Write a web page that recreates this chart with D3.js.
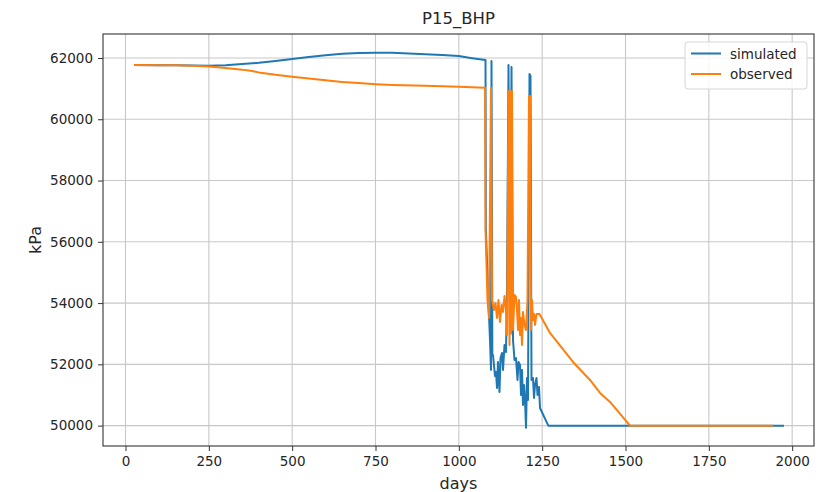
<!DOCTYPE html>
<html>
<head>
<meta charset="utf-8">
<script src="https://cdn.jsdelivr.net/npm/d3@7/dist/d3.min.js"></script>
<style>
  html, body { margin: 0; padding: 0; background: #fff; }
  svg { display: block; font-family: "DejaVu Sans", sans-serif; }
</style>
</head>
<body>
<svg id="chart" width="831" height="492"></svg>
<script>
// Bottom-hole pressure of well P15: simulated vs observed (kPa over days)
const simDays = [28.5, 100, 150, 200, 250, 300, 350, 400, 450, 500, 550, 600, 650, 700, 750, 800, 850, 900, 950, 1000, 1040, 1080,
  1081, 1087.5, 1093.5, 1096.5, 1098, 1100.5, 1102.5, 1108.5, 1111.5, 1114.5, 1117.5, 1122, 1125, 1129.5, 1132.5, 1137, 1141.5, 1144.5,
  1149, 1152, 1155, 1158, 1162.5, 1167, 1171.5, 1176, 1179, 1183.5, 1186.5, 1189.5, 1192.5, 1195.5, 1198.5, 1201.5, 1204.5, 1207.5,
  1212, 1215, 1218, 1222.5, 1225.5, 1228.5, 1233, 1236, 1240.5, 1243.5, 1268.4, 1972.5];
const simKpa = [61770, 61765, 61760, 61752, 61748, 61765, 61800, 61845, 61905, 61965, 62030, 62090, 62135, 62162, 62172, 62168, 62150, 62125, 62095, 62062, 61995, 61935,
  56450, 54430, 52800, 51820, 61900, 52300, 52306, 51620, 51750, 51229, 52077, 51098, 52208, 52371, 51816, 52632, 52404, 54428,
  61772, 54917, 54100, 61706, 52796, 52143, 52208, 51490, 52077, 51980, 51000, 51816, 50674, 51327, 50837, 49930, 51555, 50837,
  61478, 61412, 51490, 51555, 50902, 51327, 51555, 51000, 51261, 50576, 50000, 50000];

const obsDays = [28.5, 100, 150, 200, 250, 300, 350, 375, 400, 450, 500, 550, 600, 650, 700, 750, 800, 900, 1000, 1078.5,
  1080, 1086, 1090.5, 1096.5, 1099.5, 1105.5, 1110, 1114.5, 1119, 1123.5, 1128, 1132.5, 1137, 1141.5, 1144.5,
  1149, 1152, 1155, 1156.5, 1159.5, 1162.5, 1167, 1171.5, 1174.5, 1177.5, 1180.5, 1183.5, 1186.5, 1189.5, 1192.5, 1197, 1201.5, 1206,
  1210.5, 1213.5, 1216.5, 1219.5, 1222.5, 1225.5, 1228.5, 1233, 1242, 1273.5, 1342.5, 1393.5, 1423.5, 1453.5, 1513.5, 1939.5];
const obsKpa = [61770, 61765, 61760, 61750, 61720, 61670, 61620, 61585, 61530, 61450, 61385, 61330, 61270, 61220, 61180, 61145, 61120, 61090, 61065, 61030,
  56400, 54101, 53514, 61030, 54101, 53775, 54003, 53514, 54101, 53383, 53938, 53709, 54232, 53775, 52959,
  60923, 52632, 60900, 53000, 60923, 53122, 54265, 54199, 53775, 53122, 54101, 52959, 53514, 52632, 53709, 53285, 53122, 54101,
  60760, 60760, 53122, 54101, 53448, 53644, 53285, 53644, 53644, 53024, 52077, 51490, 51066, 50772, 50000, 50000];

const xTicks = [0, 250, 500, 750, 1000, 1250, 1500, 1750, 2000];
const yTicks = [50000, 52000, 54000, 56000, 58000, 60000, 62000];
const seriesNames = ["simulated", "observed"];
const seriesColors = ["#1f77b4", "#ff7f0e"];

const svg = d3.select("#chart");
const plot = { left: 103, right: 814, top: 34, bottom: 446 };

const x = d3.scaleLinear().domain([-67.5, 2065.5]).range([plot.left, plot.right]);
const y = d3.scaleLinear().domain([49335, 62783]).range([plot.bottom, plot.top]);

// grid
const grid = svg.append("g");
grid.selectAll("line.gx").data(xTicks).join("line")
  .attr("x1", d => x(d)).attr("x2", d => x(d))
  .attr("y1", plot.top).attr("y2", plot.bottom)
  .attr("stroke", "#c8c8c8").attr("stroke-width", 1.1);
grid.selectAll("line.gy").data(yTicks).join("line")
  .attr("y1", d => y(d)).attr("y2", d => y(d))
  .attr("x1", plot.left).attr("x2", plot.right)
  .attr("stroke", "#c8c8c8").attr("stroke-width", 1.1);

// clip for data lines
svg.append("defs").append("clipPath").attr("id", "clip")
  .append("rect").attr("x", plot.left).attr("y", plot.top)
  .attr("width", plot.right - plot.left).attr("height", plot.bottom - plot.top);

const line = d3.line().x(d => x(d[0])).y(d => y(d[1]));
const simData = simDays.map((d, i) => [d, simKpa[i]]);
const obsData = obsDays.map((d, i) => [d, obsKpa[i]]);

const lines = svg.append("g").attr("clip-path", "url(#clip)");
[simData, obsData].forEach((data, i) => {
  lines.append("path").datum(data)
    .attr("d", line)
    .attr("fill", "none")
    .attr("stroke", seriesColors[i])
    .attr("stroke-width", 2)
    .attr("stroke-linejoin", "round")
    .attr("stroke-linecap", "square");
});

// axes
const xAxis = d3.axisBottom(x).tickValues(xTicks).tickSize(5).tickPadding(5).tickFormat(d3.format("d"));
const yAxis = d3.axisLeft(y).tickValues(yTicks).tickSize(5).tickPadding(5).tickFormat(d3.format("d"));

const gx = svg.append("g").attr("transform", `translate(0,${plot.bottom})`).call(xAxis);
const gy = svg.append("g").attr("transform", `translate(${plot.left},0)`).call(yAxis);
[gx, gy].forEach(g => {
  g.select(".domain").remove();
  g.selectAll(".tick line").attr("stroke", "#333").attr("stroke-width", 1);
  g.selectAll(".tick text").attr("fill", "#262626").style("font-size", "13.5px")
    .style("font-family", "'DejaVu Sans', sans-serif");
});

// frame
svg.append("rect")
  .attr("x", plot.left).attr("y", plot.top)
  .attr("width", plot.right - plot.left).attr("height", plot.bottom - plot.top)
  .attr("fill", "none").attr("stroke", "#333").attr("stroke-width", 1.1);

// title and axis labels
svg.append("text").attr("x", (plot.left + plot.right) / 2).attr("y", 24)
  .attr("text-anchor", "middle").attr("fill", "#262626")
  .style("font-size", "16.5px").text("P15_BHP");
svg.append("text").attr("x", (plot.left + plot.right) / 2).attr("y", 489)
  .attr("text-anchor", "middle").attr("fill", "#262626")
  .style("font-size", "16px").text("days");
svg.append("text")
  .attr("transform", `translate(41,${(plot.top + plot.bottom) / 2}) rotate(-90)`)
  .attr("text-anchor", "middle").attr("fill", "#262626")
  .style("font-size", "16px").text("kPa");

// legend
const lg = svg.append("g").attr("transform", "translate(685,42)");
lg.append("rect").attr("width", 122).attr("height", 47).attr("rx", 3)
  .attr("fill", "#fff").attr("fill-opacity", 0.85)
  .attr("stroke", "#d6d6d6").attr("stroke-width", 1);
seriesNames.forEach((name, i) => {
  const yy = 11.5 + i * 20.5;
  lg.append("line").attr("x1", 6).attr("x2", 36).attr("y1", yy).attr("y2", yy)
    .attr("stroke", seriesColors[i]).attr("stroke-width", 2);
  lg.append("text").attr("x", 45).attr("y", yy + 5).attr("fill", "#262626")
    .style("font-size", "13.5px").text(name);
});
</script>
</body>
</html>
